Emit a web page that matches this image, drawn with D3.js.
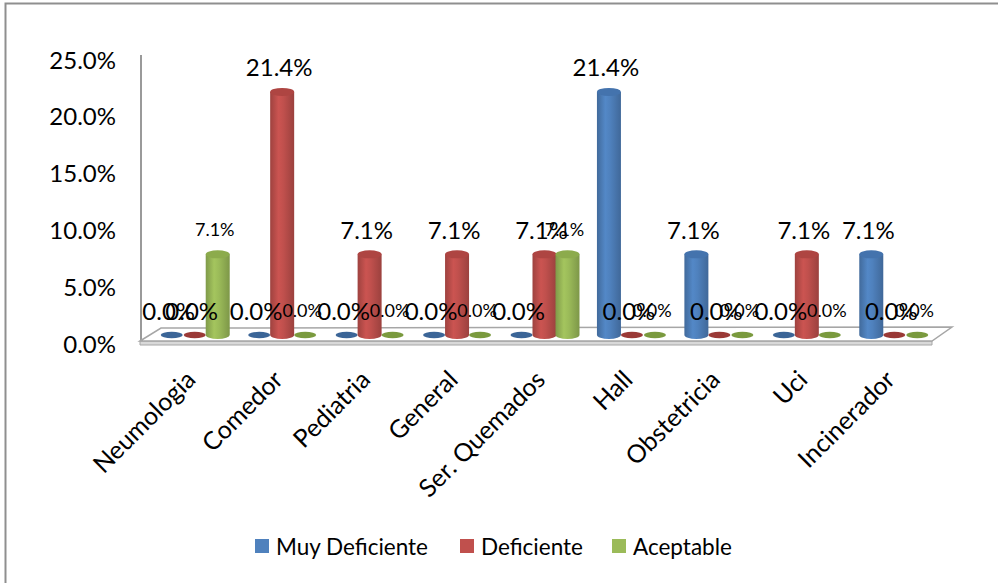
<!DOCTYPE html>
<html>
<head>
<meta charset="utf-8">
<script src="https://cdn.jsdelivr.net/npm/d3@7"></script>
<style>
  html, body { margin: 0; padding: 0; background: #ffffff; }
  svg { display: block; font-family: Lato, "Open Sans", "Liberation Sans", sans-serif; }
</style>
</head>
<body>
<svg id="chart" width="998" height="583"></svg>
<script>
// Evaluation by area: share of each rating (percent)
const categories = ["Neumologia", "Comedor", "Pediatria", "General", "Ser. Quemados", "Hall", "Obstetricia", "Uci", "Incinerador"];
const seriesNames = ["Muy Deficiente", "Deficiente", "Aceptable"];
const muyDeficiente = [0.0, 0.0, 0.0, 0.0, 0.0, 21.4, 7.1, 0.0, 7.1];
const deficiente    = [0.0, 21.4, 7.1, 7.1, 7.1, 0.0, 0.0, 7.1, 0.0];
const aceptable     = [7.1, 0.0, 0.0, 0.0, 7.1, 0.0, 0.0, 0.0, 0.0];
const yTicks = [0, 5, 10, 15, 20, 25];

const seriesValues = [muyDeficiente, deficiente, aceptable];
const colors = ["#4F81BD", "#C0504D", "#9BBB59"];
const darkColors = ["#3B6597", "#9A3936", "#7A9A3E"];
const topColors = ["#4473AD", "#AE4542", "#8CAB4C"];
const labelSizes = [24, 24, 18];

const svg = d3.select("#chart");
const defs = svg.append("defs");

// outer chart frame
svg.append("rect")
  .attr("x", 5.5).attr("y", 3.5).attr("width", 1100).attr("height", 700)
  .attr("fill", "none").attr("stroke", "#8f8f8f").attr("stroke-width", 2);

// scales
const x = d3.scaleBand().domain(categories).range([151, 938]);
const yFront = d3.scaleLinear().domain([0, 25]).range([343, 59]);
const depthShift = -8;           // bars stand mid-depth on the floor
const yBar = v => yFront(v) + depthShift;
const seriesOffset = [-23, 0, 23];
const radius = 12;
const ry = 4;

// horizontal shading gradients for the cylinders
colors.forEach((c, i) => {
  const g = defs.append("linearGradient").attr("id", "cyl" + i)
    .attr("x1", "0%").attr("x2", "100%").attr("y1", "0%").attr("y2", "0%");
  g.append("stop").attr("offset", "0%").attr("stop-color", d3.color(c).darker(0.55));
  g.append("stop").attr("offset", "35%").attr("stop-color", d3.color(c).brighter(0.15));
  g.append("stop").attr("offset", "55%").attr("stop-color", d3.color(c));
  g.append("stop").attr("offset", "100%").attr("stop-color", d3.color(c).darker(0.6));
});

// y axis line
svg.append("line")
  .attr("x1", 141).attr("x2", 141)
  .attr("y1", yFront(25) - 4).attr("y2", yFront(0) - 2)
  .attr("stroke", "#9a9a9a").attr("stroke-width", 2);

// y tick labels
svg.append("g").selectAll("text").data(yTicks).join("text")
  .attr("x", 116).attr("y", d => yFront(d))
  .attr("text-anchor", "end").attr("dominant-baseline", "central")
  .attr("font-size", 24).attr("fill", "#000")
  .text(d => d.toFixed(1) + "%");

// floor slab
const floorFL = [140, 341], floorBL = [161, 328], floorBR = [952, 327], floorFR = [932, 341];
svg.append("path")
  .attr("d", `M${floorFL}L${floorFR}L${floorFR[0]},345L${floorFL[0]},345Z`)
  .attr("fill", "#d9d9d9").attr("stroke", "#a6a6a6").attr("stroke-width", 1);
svg.append("path")
  .attr("d", `M${floorFL}L${floorBL}L${floorBR}L${floorFR}Z`)
  .attr("fill", "#ffffff").attr("stroke", "#a6a6a6").attr("stroke-width", 1.5);

// cylinders
const bars = [];
categories.forEach((cat, ci) => {
  seriesValues.forEach((vals, si) => {
    bars.push({ cat, si, v: vals[ci], cx: x(cat) + x.bandwidth() / 2 + seriesOffset[si] });
  });
});

const gBars = svg.append("g");
bars.forEach(b => {
  const base = yBar(0);
  if (b.v === 0) {
    gBars.append("ellipse")
      .attr("cx", b.cx).attr("cy", base).attr("rx", radius - 1).attr("ry", 3.2)
      .attr("fill", darkColors[b.si]);
    return;
  }
  const top = yBar(b.v);
  const l = b.cx - radius, r = b.cx + radius;
  gBars.append("path")
    .attr("d", `M${l},${top}L${l},${base}A${radius},${ry} 0 0 0 ${r},${base}L${r},${top}Z`)
    .attr("fill", `url(#cyl${b.si})`);
  gBars.append("ellipse")
    .attr("cx", b.cx).attr("cy", top).attr("rx", radius).attr("ry", ry)
    .attr("fill", topColors[b.si]);
});

// value labels
const gLabels = svg.append("g");
bars.forEach(b => {
  gLabels.append("text")
    .attr("x", b.cx - 3).attr("y", yBar(b.v) - 25)
    .attr("text-anchor", "middle").attr("dominant-baseline", "central")
    .attr("font-size", labelSizes[b.si]).attr("fill", "#000")
    .text(b.v.toFixed(1) + "%");
});

// category labels, rotated
svg.append("g").selectAll("text").data(categories).join("text")
  .attr("transform", d => `translate(${x(d) + x.bandwidth() / 2 - 11},${368}) rotate(-45)`)
  .attr("text-anchor", "end").attr("dy", "0.75em")
  .attr("font-size", 25).attr("fill", "#000")
  .text(d => d);

// legend
const legendX = [255, 460, 612];
const gLeg = svg.append("g");
seriesNames.forEach((name, i) => {
  gLeg.append("rect")
    .attr("x", legendX[i]).attr("y", 539).attr("width", 14).attr("height", 14)
    .attr("fill", colors[i]);
  gLeg.append("text")
    .attr("x", legendX[i] + 21).attr("y", 546)
    .attr("dominant-baseline", "central")
    .attr("font-size", 22.5).attr("fill", "#000")
    .text(name);
});
</script>
</body>
</html>
